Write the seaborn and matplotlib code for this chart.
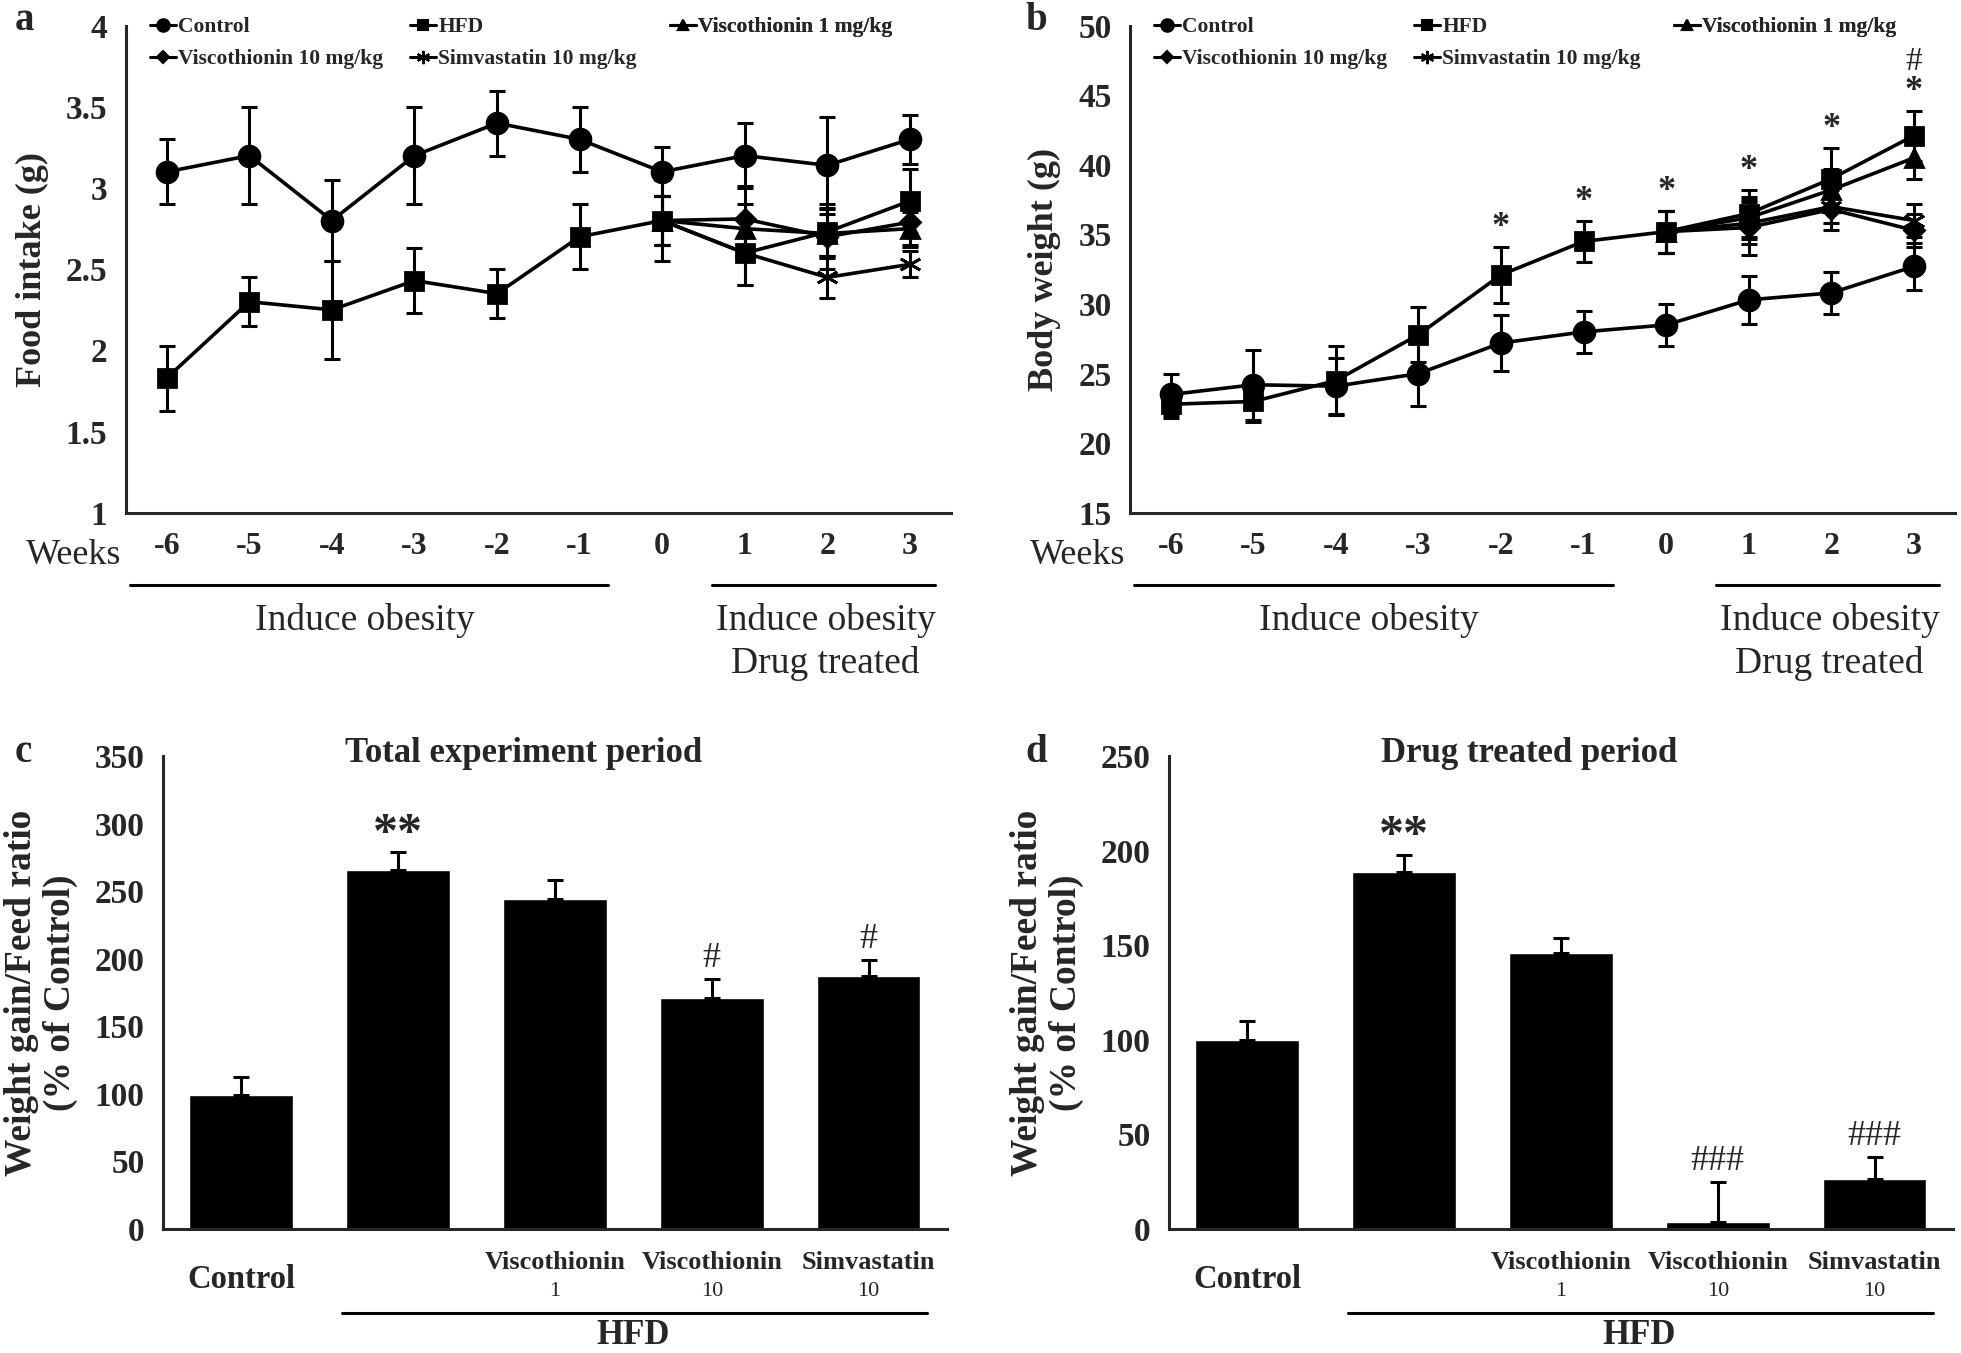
import numpy as np
import pandas as pd
import matplotlib
matplotlib.use('Agg')
import matplotlib.pyplot as plt
import matplotlib.transforms as mtransforms
from matplotlib.lines import Line2D
import seaborn as sns

sns.set_style('white')
plt.rcParams['font.family'] = ['Liberation Serif', 'DejaVu Serif']
plt.rcParams['axes.linewidth'] = 2.2

# ---- data ----
weeks = [-6, -5, -4, -3, -2, -1, 0, 1, 2, 3]
treat_weeks = [0, 1, 2, 3]

# a: food intake (g)
food_control = [3.1, 3.2, 2.8, 3.2, 3.4, 3.3, 3.1, 3.2, 3.14, 3.3]
food_control_err = [0.2, 0.3, 0.25, 0.3, 0.2, 0.2, 0.15, 0.2, 0.3, 0.15]
food_hfd = [1.83, 2.3, 2.25, 2.43, 2.35, 2.7, 2.8, 2.6, 2.73, 2.92]
food_hfd_err = [0.2, 0.15, 0.3, 0.2, 0.15, 0.2, 0.25, 0.2, 0.15, 0.2]
food_visc1 = [2.8, 2.75, 2.72, 2.75]
food_visc1_err = [0.15, 0.15, 0.15, 0.1]
food_visc10 = [2.8, 2.81, 2.7, 2.79]
food_visc10_err = [0.15, 0.2, 0.2, 0.15]
food_simva = [2.8, 2.6, 2.45, 2.53]
food_simva_err = [0.15, 0.2, 0.13, 0.08]

# b: body weight (g)
bw_control = [23.5, 24.2, 24.1, 25.0, 27.2, 28.0, 28.5, 30.3, 30.8, 32.7]
bw_control_err = [1.5, 2.5, 2.0, 2.3, 2.0, 1.5, 1.5, 1.7, 1.5, 1.7]
bw_hfd = [22.8, 23.0, 24.5, 27.8, 32.1, 34.5, 35.2, 36.5, 39.0, 42.1]
bw_hfd_err = [1.0, 1.5, 2.5, 2.0, 2.0, 1.5, 1.5, 1.7, 2.2, 1.8]
bw_visc1 = [35.2, 36.2, 38.2, 40.5]
bw_visc1_err = [1.5, 1.5, 1.5, 1.5]
bw_visc10 = [35.2, 35.5, 36.8, 35.3]
bw_visc10_err = [1.5, 2.0, 1.5, 1.2]
bw_simva = [35.2, 35.8, 37.0, 36.0]
bw_simva_err = [1.5, 1.5, 1.2, 1.2]
bw_star_weeks = [-2, -1, 0, 1, 2, 3]
bw_hash_weeks = [3]

# c, d: weight gain / feed ratio (% of control)
groups = ['Control', 'HFD', 'Viscothionin 1', 'Viscothionin 10', 'Simvastatin 10']
group_names = ['Control', '', 'Viscothionin', 'Viscothionin', 'Simvastatin']
group_doses = ['', '', '1', '10', '10']
total_ratio = [99, 266, 244, 171, 187]
total_err = [13, 13, 14, 14, 12]
total_marks = ['', '**', '', '#', '#']
drug_ratio = [100, 189, 146, 3.5, 26]
drug_err = [10, 9, 8, 21, 12]
drug_marks = ['', '**', '', '###', '###']

legend_labels = ['Control', 'HFD', 'Viscothionin 1 mg/kg',
                 'Viscothionin 10 mg/kg', 'Simvastatin 10 mg/kg']
asterisk = (6, 2, 0)
markers = ['o', 's', '^', 'D', asterisk]
msizes = [15, 13, 13, 10, 16]

fig = plt.figure(figsize=(19.61, 13.53), dpi=100)
ax_a = fig.add_axes([0.064, 0.621, 0.421, 0.360])
ax_b = fig.add_axes([0.576, 0.621, 0.421, 0.360])
ax_c = fig.add_axes([0.083, 0.092, 0.400, 0.349])
ax_d = fig.add_axes([0.596, 0.092, 0.400, 0.349])


def draw_series(ax, x, y, err, marker, ms, z):
    ax.errorbar(x, y, yerr=err, fmt='none', ecolor='black', elinewidth=2.2,
                capsize=6, capthick=2.2, zorder=z)
    sns.lineplot(x=x, y=y, ax=ax, color='black', linewidth=2.6, marker=marker,
                 markersize=ms, markeredgecolor='black', markeredgewidth=2.0,
                 errorbar=None, zorder=z + 0.5)


def weeks_axis(ax, ylim, yticks, ylabel):
    ax.set_xlim(-6.5, 3.5)
    ax.set_ylim(*ylim)
    ax.set_yticks(yticks)
    ax.set_yticklabels(['{:g}'.format(t) for t in yticks])
    ax.set_xticks(weeks)
    ax.set_xticklabels([str(w) for w in weeks])
    ax.set_xticks(np.arange(-6.5, 4.0, 1.0), minor=True)
    ax.tick_params(axis='x', which='major', length=0, pad=14, labelsize=23)
    ax.tick_params(axis='x', which='minor', length=9, width=2.2, direction='out')
    ax.tick_params(axis='y', length=9, width=2.2, direction='out', labelsize=24, pad=4)
    for lab in ax.get_xticklabels() + ax.get_yticklabels():
        lab.set_fontweight('bold')
    ax.set_xlabel('')
    ax.set_ylabel(ylabel, fontsize=26, fontweight='bold', labelpad=12)
    sns.despine(ax=ax)
    tr = mtransforms.blended_transform_factory(ax.transData, ax.transAxes)
    ax.text(-6.55, -0.088, 'Weeks', transform=tr, ha='right', va='center',
            fontsize=26, clip_on=False)
    ax.plot([-6.45, -0.65], [-0.148, -0.148], transform=tr, color='black', lw=2.2, clip_on=False)
    ax.plot([0.6, 3.3], [-0.148, -0.148], transform=tr, color='black', lw=2.2, clip_on=False)
    ax.text(-3.6, -0.222, 'Induce obesity', transform=tr, ha='center', va='center', fontsize=27)
    ax.text(1.98, -0.222, 'Induce obesity', transform=tr, ha='center', va='center', fontsize=27)
    ax.text(1.98, -0.31, 'Drug treated', transform=tr, ha='center', va='center', fontsize=27)
    # legend laid out in three columns like the original
    handles = [Line2D([], [], color='black', lw=2.2, marker=m, markersize=s * 0.6,
                      markeredgewidth=1.5) for m, s in zip(markers, msizes)]
    cols = [([0, 3], 0.03), ([1, 4], 0.345), ([2], 0.66)]
    for idx, xpos in cols:
        leg = ax.legend([handles[i] for i in idx], [legend_labels[i] for i in idx],
                        loc='upper left', bbox_to_anchor=(xpos, 1.017), frameon=False,
                        handlelength=1.2, handletextpad=0.1, labelspacing=0.55,
                        borderpad=0, borderaxespad=0,
                        prop={'size': 15.5, 'weight': 'bold'})
        ax.add_artist(leg)


# ---- panel a ----
draw_series(ax_a, weeks, food_control, food_control_err, markers[0], msizes[0], 5)
draw_series(ax_a, weeks, food_hfd, food_hfd_err, markers[1], msizes[1], 4)
draw_series(ax_a, treat_weeks, food_visc1, food_visc1_err, markers[2], msizes[2], 3)
draw_series(ax_a, treat_weeks, food_visc10, food_visc10_err, markers[3], msizes[3], 3)
draw_series(ax_a, treat_weeks, food_simva, food_simva_err, markers[4], msizes[4], 3)
weeks_axis(ax_a, (1, 4), [1, 1.5, 2, 2.5, 3, 3.5, 4], 'Food intake (g)')

# ---- panel b ----
draw_series(ax_b, weeks, bw_control, bw_control_err, markers[0], msizes[0], 5)
draw_series(ax_b, weeks, bw_hfd, bw_hfd_err, markers[1], msizes[1], 4)
draw_series(ax_b, treat_weeks, bw_visc1, bw_visc1_err, markers[2], msizes[2], 3)
draw_series(ax_b, treat_weeks, bw_visc10, bw_visc10_err, markers[3], msizes[3], 3)
draw_series(ax_b, treat_weeks, bw_simva, bw_simva_err, markers[4], msizes[4], 3)
weeks_axis(ax_b, (15, 50), [15, 20, 25, 30, 35, 40, 45, 50], 'Body weight (g)')
for w in bw_star_weeks:
    i = weeks.index(w)
    ax_b.annotate('*', (w, bw_hfd[i] + bw_hfd_err[i]), xytext=(0, 2),
                  textcoords='offset points', ha='center', va='bottom',
                  fontsize=26, fontweight='bold')
for w in bw_hash_weeks:
    i = weeks.index(w)
    ax_b.annotate('#', (w, bw_hfd[i] + bw_hfd_err[i]), xytext=(0, 24),
                  textcoords='offset points', ha='center', va='bottom', fontsize=24)


# ---- panels c, d ----
def bar_panel(ax, values, errs, marks, ymax, title):
    df = pd.DataFrame({'group': groups, 'ratio': values})
    sns.barplot(data=df, x='group', y='ratio', order=groups, color='black',
                saturation=1, width=0.66, errorbar=None, ax=ax)
    ax.errorbar(range(len(groups)), values, yerr=[[0] * len(errs), errs], fmt='none',
                ecolor='black', elinewidth=2.2, capsize=6, capthick=2.2)
    ax.set_xlim(-0.5, len(groups) - 0.5)
    ax.set_ylim(0, ymax)
    ax.set_yticks(np.arange(0, ymax + 1, 50))
    ax.set_xticks(range(len(groups)))
    ax.set_xticklabels([''] * len(groups))
    ax.set_xticks(np.arange(-0.5, len(groups), 1.0), minor=True)
    ax.tick_params(axis='x', which='major', length=0)
    ax.tick_params(axis='x', which='minor', length=10, width=2.2, direction='out')
    ax.tick_params(axis='y', length=9, width=2.2, direction='out', labelsize=24, pad=4)
    for lab in ax.get_yticklabels():
        lab.set_fontweight('bold')
    ax.set_xlabel('')
    ax.set_ylabel('Weight gain/Feed ratio\n(% of Control)', fontsize=27,
                  fontweight='bold', labelpad=12, linespacing=1.15)
    sns.despine(ax=ax)
    ax.text(0.46, 1.005, title, transform=ax.transAxes, ha='center', va='center',
            fontsize=25, fontweight='bold')
    tr = mtransforms.blended_transform_factory(ax.transData, ax.transAxes)
    for i, (name, dose) in enumerate(zip(group_names, group_doses)):
        if name == 'Control':
            ax.text(i, -0.108, name, transform=tr, ha='center', va='center',
                    fontsize=23.5, fontweight='bold')
        elif name:
            ax.text(i, -0.072, name, transform=tr, ha='center', va='center',
                    fontsize=19, fontweight='bold')
            ax.text(i, -0.134, dose, transform=tr, ha='center', va='center', fontsize=16)
    ax.plot([0.64, 4.37], [-0.178, -0.178], transform=tr, color='black', lw=2.2, clip_on=False)
    ax.text(2.5, -0.226, 'HFD', transform=tr, ha='center', va='center',
            fontsize=25, fontweight='bold')
    for i, m in enumerate(marks):
        if not m:
            continue
        if '*' in m:
            ax.annotate(m, (i, values[i] + errs[i]), xytext=(0, -4), textcoords='offset points',
                        ha='center', va='bottom', fontsize=36, fontweight='bold')
        else:
            ax.annotate(m, (i, values[i] + errs[i]), xytext=(0, 3), textcoords='offset points',
                        ha='center', va='bottom', fontsize=26)


bar_panel(ax_c, total_ratio, total_err, total_marks, 350, 'Total experiment period')
bar_panel(ax_d, drug_ratio, drug_err, drug_marks, 250, 'Drug treated period')

for lbl, (x, y) in zip('abcd', [(15, 20), (1025, 20), (15, 752), (1025, 752)]):
    fig.text(x / 1961, 1 - y / 1353, lbl, ha='left', va='center', fontsize=28, fontweight='bold')

fig.savefig('out.png', dpi=100)
